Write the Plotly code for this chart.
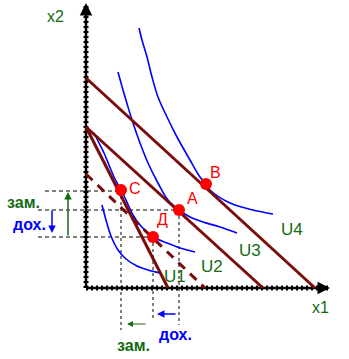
import plotly.graph_objects as go

# ---- data (units: x1, x2 quantities) ----
# budget lines: (x1 intercept, x2 intercept)
budget_B = (229, 210)
budget_A = (177, 161)
budget_C = (82, 161)
budget_D = (119, 114)   # dashed, compensated

# indifference curves
U4_x = [53, 56, 61, 66, 72, 81, 91, 104, 114, 120, 124, 144, 167, 187]
U4_y = [260, 248, 231, 211, 191, 171, 151, 128, 111, 104, 98, 85, 78, 74]
U3_x = [32, 37, 42, 47, 54, 62, 72, 82, 93, 104, 117, 134, 151]
U3_y = [216, 198, 181, 165, 145, 125, 105, 88, 78, 71, 66, 61, 55]
U2_x = [8, 13, 18, 23, 28, 35, 40, 47, 54, 61, 67, 81, 94, 109]
U2_y = [155, 145, 135, 123, 111, 98, 88, 73, 63, 56, 51, 45, 40, 36]
U1_x = [16, 20, 25, 32, 40, 51, 62, 74]
U1_y = [83, 68, 52, 38, 29, 22, 18, 15]

# equilibrium points
pt_names = ["В", "А", "С", "Д"]
pt_x = [120, 93, 35, 67]
pt_y = [104, 78, 98, 51]
lbl_x = [129, 106, 49, 76]
lbl_y = [116, 90, 100, 69]

curve_names = ["U4", "U3", "U2", "U1"]
curve_lbl_x = [206, 164, 126, 89]
curve_lbl_y = [59, 38, 22, 12]

# axis extents
x1_max = 244
x2_max = 285

# guide levels
guide_h_y = [97, 78, 51]
guide_h_x0 = [-41, -48, -48]
guide_h_x1 = [35, 93, 67]
guide_v_x = [35, 67, 93]
guide_v_y0 = [98, 51, 78]
guide_v_y1 = [-42, -32, -37]

MAROON = "#7a0c0c"
BLUE = "#0000ff"
GREEN = "#136b13"
RED = "#ff0000"
FONT = "Liberation Sans, Arial, sans-serif"

fig = go.Figure()

def line(xs, ys, color, width, dash="solid", shape="linear"):
    fig.add_trace(go.Scatter(x=xs, y=ys, mode="lines", hoverinfo="skip",
                             line=dict(color=color, width=width, dash=dash, shape=shape)))

# guides
for y, a, b in zip(guide_h_y, guide_h_x0, guide_h_x1):
    line([a, b], [y, y], "black", 1, dash="4px,3px")
for x, a, b in zip(guide_v_x, guide_v_y0, guide_v_y1):
    line([x, x], [a, b], "black", 1, dash="3px,3px")

# axes
line([0, 0], [0, x2_max], "black", 5, dash="2px,3px")
line([0, x1_max], [0, 0], "black", 5, dash="2px,3px")
line([0, 0], [0, x2_max - 4], "black", 2.5)
line([0, x1_max - 4], [0, 0], "black", 2.5)

# indifference curves
for xs, ys in [(U4_x, U4_y), (U3_x, U3_y), (U2_x, U2_y), (U1_x, U1_y)]:
    line(xs, ys, BLUE, 1.6, shape="spline")

# budget lines
for bx, by in [budget_B, budget_A, budget_C]:
    line([0, bx], [by, 0], MAROON, 3)
line([0, budget_D[0]], [budget_D[1], 0], MAROON, 3, dash="9px,7px")

# points
fig.add_trace(go.Scatter(x=pt_x, y=pt_y, mode="markers", hoverinfo="skip",
                         marker=dict(color=RED, size=12, line=dict(width=0))))

ann = []
for t, x, y in zip(pt_names, lbl_x, lbl_y):
    ann.append(dict(x=x, y=y, text=t, showarrow=False,
                    font=dict(family=FONT, size=16, color=RED)))
for t, x, y in zip(curve_names, curve_lbl_x, curve_lbl_y):
    ann.append(dict(x=x, y=y, text=t, showarrow=False,
                    font=dict(family=FONT, size=17, color=GREEN)))
ann.append(dict(x=234, y=-19, text="x1", showarrow=False,
                font=dict(family=FONT, size=16, color=GREEN)))
ann.append(dict(x=-31, y=272, text="x2", showarrow=False,
                font=dict(family=FONT, size=16, color=GREEN)))
ann.append(dict(x=-63, y=86, text="<b>зам.</b>", showarrow=False,
                font=dict(family=FONT, size=16, color=GREEN)))
ann.append(dict(x=-57, y=64, text="<b>дох.</b>", showarrow=False,
                font=dict(family=FONT, size=16, color=BLUE)))
ann.append(dict(x=47, y=-57, text="<b>зам.</b>", showarrow=False,
                font=dict(family=FONT, size=16, color=GREEN)))
ann.append(dict(x=89, y=-46, text="<b>дох.</b>", showarrow=False,
                font=dict(family=FONT, size=16, color=BLUE)))

def arrow(x0, y0, x1, y1, color, width, size=1.0):
    ann.append(dict(x=x1, y=y1, ax=x0, ay=y0, xref="x", yref="y", axref="x", ayref="y",
                    text="", showarrow=True, arrowhead=2, arrowsize=size,
                    arrowwidth=width, arrowcolor=color))

# axis arrowheads
arrow(0, x2_max - 10, 0, x2_max, "black", 2.5, 1.0)
arrow(x1_max - 10, 0, x1_max, 0, "black", 2.5, 1.0)
# effect arrows
arrow(-18, 51, -18, 96, GREEN, 1.5)
arrow(-34, 79, -34, 55, BLUE, 1.5)
arrow(91, -26, 71, -26, BLUE, 1.5)
arrow(61, -36, 41, -36, GREEN, 1.2)

fig.update_layout(
    width=349, height=359,
    margin=dict(l=0, r=0, t=0, b=0),
    paper_bgcolor="white", plot_bgcolor="white",
    showlegend=False,
    xaxis=dict(range=[-86, 263], visible=False, fixedrange=True),
    yaxis=dict(range=[-71, 288], visible=False, fixedrange=True),
    annotations=ann,
)

fig.write_html("out.html")
